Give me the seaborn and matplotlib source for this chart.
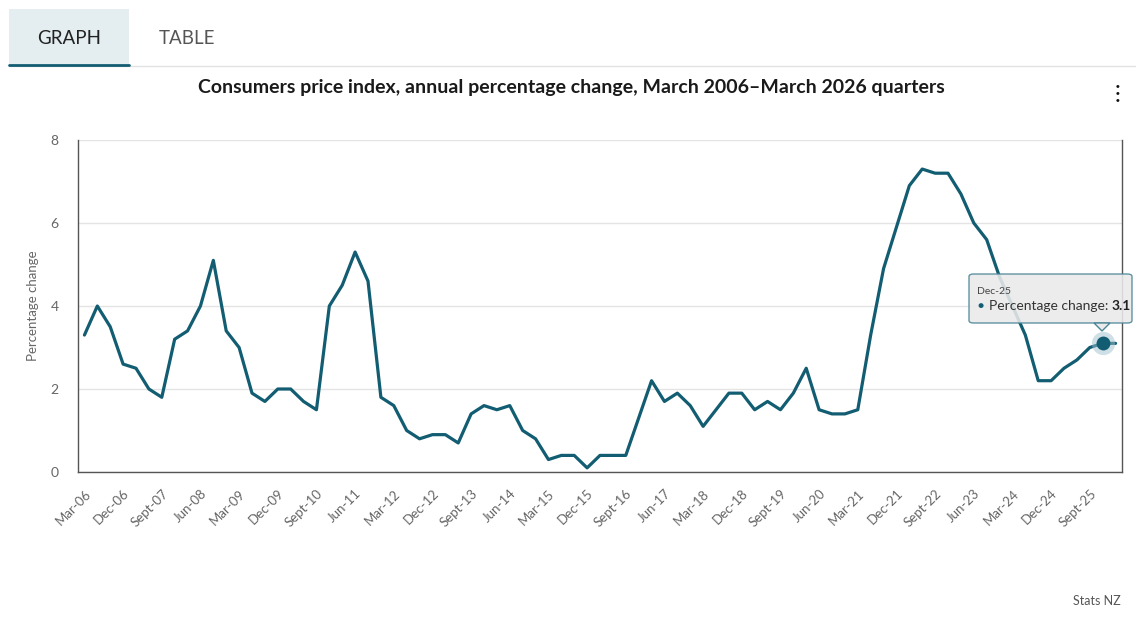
import numpy as np
import pandas as pd
import matplotlib
matplotlib.use("Agg")
import matplotlib.pyplot as plt
from matplotlib.patches import Rectangle, FancyBboxPatch, Polygon
import seaborn as sns

# quarters Mar-06 .. Mar-26
years = list(range(2006, 2027))
months = ["Mar", "Jun", "Sept", "Dec"]

# annual % change in CPI
cpi = [3.3, 4.0, 3.5, 2.6, 2.5, 2.0, 1.8, 3.2, 3.4, 4.0, 5.1, 3.4,
       3.0, 1.9, 1.7, 2.0, 2.0, 1.7, 1.5, 4.0, 4.5, 5.3, 4.6, 1.8,
       1.6, 1.0, 0.8, 0.9, 0.9, 0.7, 1.4, 1.6, 1.5, 1.6, 1.0, 0.8,
       0.3, 0.4, 0.4, 0.1, 0.4, 0.4, 0.4, 1.3, 2.2, 1.7, 1.9, 1.6,
       1.1, 1.5, 1.9, 1.9, 1.5, 1.7, 1.5, 1.9, 2.5, 1.5, 1.4, 1.4,
       1.5, 3.3, 4.9, 5.9, 6.9, 7.3, 7.2, 7.2, 6.7, 6.0, 5.6, 4.7,
       4.0, 3.3, 2.2, 2.2, 2.5, 2.7, 3.0, 3.1, 3.1]

tick_labels = ["Mar-06", "Dec-06", "Sept-07", "Jun-08", "Mar-09", "Dec-09",
               "Sept-10", "Jun-11", "Mar-12", "Dec-12", "Sept-13", "Jun-14",
               "Mar-15", "Dec-15", "Sept-16", "Jun-17", "Mar-18", "Dec-18",
               "Sept-19", "Jun-20", "Mar-21", "Dec-21", "Sept-22", "Jun-23",
               "Mar-24", "Dec-24", "Sept-25"]

quarters = [f"{m}-{str(y)[2:]}" for y in years for m in months][:len(cpi)]
df = pd.DataFrame({"quarter": quarters, "pos": np.arange(len(cpi)), "value": cpi})

hover = "Dec-25"
hover_val = df.loc[df["quarter"] == hover, "value"].iloc[0]
hover_pos = df.loc[df["quarter"] == hover, "pos"].iloc[0]

W, H = 1147, 617
LINE = "#125d72"
GREY = "#666666"

sns.set_style("white")
plt.rcParams["font.family"] = ["Lato", "DejaVu Sans"]

fig = plt.figure(figsize=(W / 100, H / 100), dpi=100)


def fx(x):
    return x / W


def fy(y):
    return 1 - y / H


ax = fig.add_axes([fx(78), fy(472), fx(1122) - fx(78), fy(140) - fy(472)])

sns.lineplot(data=df, x="pos", y="value", ax=ax, color=LINE, linewidth=2.3)

ax.set_xlim(-0.5, len(cpi) - 0.5)
ax.set_ylim(0, 8)
ax.set_yticks([0, 2, 4, 6, 8])
ax.yaxis.grid(True, color="#e4e4e4", linewidth=1)
ax.set_axisbelow(True)
ax.tick_params(axis="y", length=0, pad=14, labelsize=10, labelcolor=GREY)

tick_pos = [quarters.index(t) for t in tick_labels]
ax.set_xticks(tick_pos)
ax.set_xticklabels(tick_labels, rotation=45, ha="right", rotation_mode="anchor")
ax.tick_params(axis="x", length=7, width=1, color="#c9d3e3", labelsize=9.5,
               labelcolor=GREY, pad=4)

for side in ["left", "bottom", "right"]:
    ax.spines[side].set_color("#555555")
    ax.spines[side].set_linewidth(1)
ax.spines["top"].set_visible(False)

ax.set_xlabel("")
ax.set_ylabel("Percentage change", fontsize=9.5, color=GREY, labelpad=8)

# hover marker
ax.scatter([hover_pos], [hover_val], s=280, color="#9fc3cf", alpha=0.5, zorder=4, linewidths=0)
ax.scatter([hover_pos], [hover_val], s=100, color=LINE, zorder=5, linewidths=0)

# tooltip
tip = FancyBboxPatch((fx(969), fy(323)), fx(1132) - fx(969), fy(274) - fy(323),
                     boxstyle="round,pad=0,rounding_size=0.004",
                     transform=fig.transFigure, facecolor="#eaeaea", alpha=0.88,
                     edgecolor="#4b8597", linewidth=1, zorder=10)
fig.add_artist(tip)
arrow = Polygon([(fx(1094), fy(323)), (fx(1110), fy(323)), (fx(1102), fy(331))],
                closed=True, transform=fig.transFigure, facecolor="#eaeaea",
                edgecolor="#4b8597", linewidth=1, zorder=10)
fig.add_artist(arrow)
fig.text(fx(977), fy(291), hover, fontsize=7.5, color="#444444", va="center", zorder=11)
fig.text(fx(977), fy(306), "\u25cf", fontsize=7.5, color=LINE, va="center", zorder=11)
label = fig.text(fx(989), fy(306), "Percentage change:", fontsize=10, color="#333333",
                 va="center", zorder=11)
fig.add_artist(plt.Annotation(f"{hover_val}", xy=(1, 0.5), xycoords=label,
                              xytext=(2, 0), textcoords="offset points",
                              fontsize=10, color="#222222", fontweight="bold",
                              va="center", ha="left", zorder=11))

# tabs
fig.add_artist(Rectangle((fx(9), fy(64)), fx(129) - fx(9), fy(9) - fy(64),
                         transform=fig.transFigure, facecolor="#e4edf0", edgecolor="none"))
fig.add_artist(plt.Line2D([fx(9), fx(1135)], [fy(66), fy(66)], transform=fig.transFigure,
                          color="#e2e2e2", linewidth=1))
fig.add_artist(plt.Line2D([fx(9), fx(129)], [fy(64.5), fy(64.5)], transform=fig.transFigure,
                          color="#125d72", linewidth=2))
fig.text(fx(69), fy(38), "GRAPH", fontsize=13.5, color="#222222", ha="center", va="center")
fig.text(fx(187), fy(38), "TABLE", fontsize=13.5, color="#555555", ha="center", va="center")

fig.text(fx(571), fy(88), "Consumers price index, annual percentage change, March 2006\u2013March 2026 quarters",
         fontsize=14, fontweight="bold", color="#1a1a1a", ha="center", va="center")

for yy in [86, 93, 100]:
    fig.text(fx(1118), fy(yy), "\u25cf", fontsize=4.5, color="#111111", ha="center", va="center")

fig.text(fx(1121), fy(601), "Stats NZ", fontsize=9, color="#555555", ha="right", va="center")

fig.savefig("out.png", dpi=100)
